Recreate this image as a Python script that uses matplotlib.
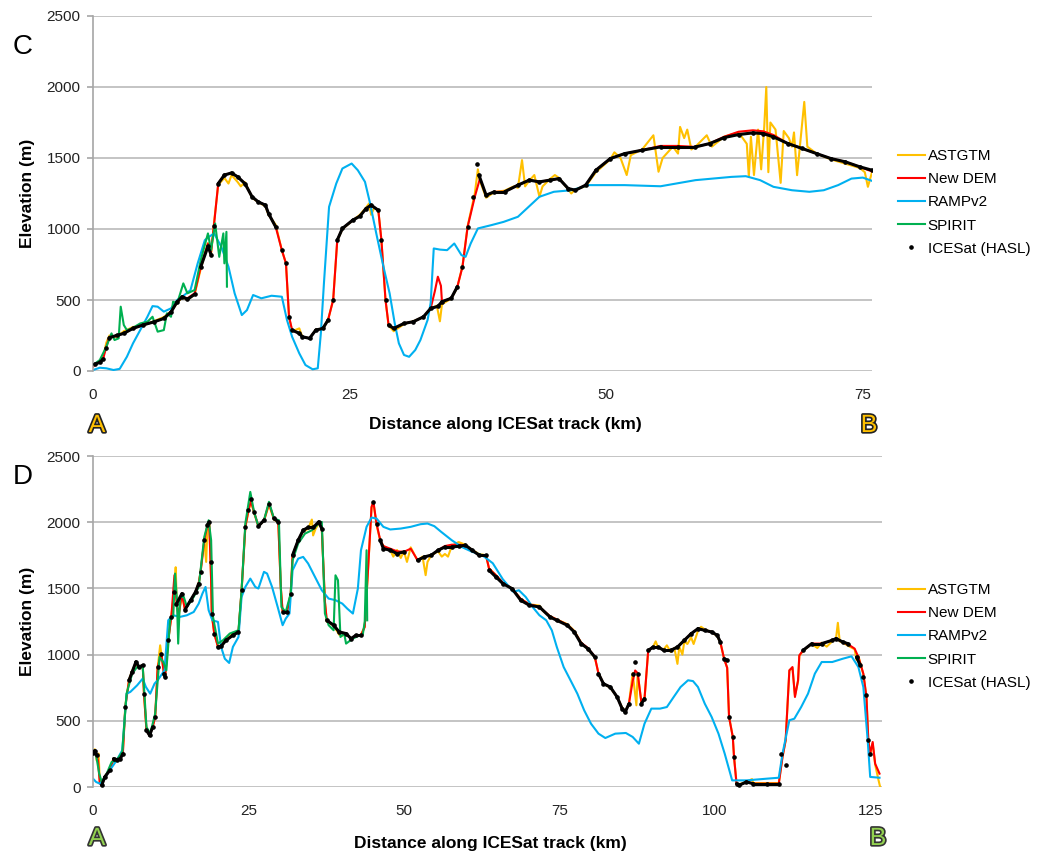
import numpy as np
import matplotlib
matplotlib.use("Agg")
import matplotlib.pyplot as plt
import matplotlib.patheffects as pe
from matplotlib.collections import LineCollection

plt.rcParams['font.family'] = ['Liberation Sans', 'DejaVu Sans']

nan = np.nan

# ---------------- panel C (track A-B, 76 km) ----------------
c_dem_km = [0.0, 0.3, 0.66, 1.0, 1.3, 1.6, 2.3, 3.0, 3.9, 4.9, 5.9, 6.9, 7.6, 8.2, 8.7, 9.2, 9.9, 10.5, 11.2, 11.5,
            11.8, 12.2, 12.8, 13.5, 14.1, 14.8, 15.5, 16.1, 16.8, 17.1, 17.8, 18.4, 18.8, 19.1, 19.4, 20.1, 20.4,
            21.1, 21.7, 22.4, 22.9, 23.4, 23.8, 24.3, 25.3, 26.0, 26.6, 27.1, 27.8, 28.1, 28.5, 28.8, 29.3, 30.3,
            31.2, 32.2, 32.9, 33.3, 33.6, 33.9, 34.0, 34.9, 35.5, 36.0, 36.5, 37.2, 37.7, 38.3, 39.1, 40.1, 41.4,
            42.5, 43.5, 44.5, 45.4, 46.3, 47.0, 48.0, 49.0, 50.4, 51.8, 53.5, 55.3, 57.0, 58.7, 60.1, 61.5, 62.9,
            64.3, 65.3, 66.3, 67.7, 69.1, 70.5, 71.9, 73.3, 74.7, 75.9]
c_dem_m = [30, 50, 65, 90, 170, 240, 250, 265, 300, 325, 345, 370, 415, 488, 523, 512, 547, 734, 898, 840,
           1036, 1320, 1380, 1395, 1367, 1320, 1227, 1191, 1168, 1109, 1015, 851, 758, 382, 288, 265, 241,
           230, 288, 300, 359, 500, 922, 1004, 1062, 1090, 1144, 1168, 1132, 922, 500, 324, 300, 335,
           347, 382, 441, 560, 664, 600, 488, 512, 594, 734, 1015, 1227, 1355, 1238, 1262, 1262, 1309,
           1344, 1332, 1344, 1355, 1285, 1273, 1309, 1414, 1496, 1531, 1555, 1585, 1585, 1578, 1602, 1650, 1685,
           1695, 1688, 1662, 1602, 1567, 1531, 1496, 1473, 1438, 1405]

c_ice_km = [0.2, 0.66, 1.0, 1.3, 1.6, 2.3, 3.0, 3.9, 4.9, 5.9, 6.9, 7.6, 8.2, 8.7, 9.2, 9.9, 10.5, 11.2, 11.5,
            11.8, 12.2, 12.8, 13.5, 14.1, 14.8, 15.5, 16.1, 16.8, 17.1, 17.8, 18.4, 18.8, 19.1, 19.4, 20.1, 20.4,
            21.1, 21.7, 22.4, 22.9, 23.4, 23.8, 24.3, 25.3, 26.0, 26.6, 27.1, 27.8, 28.1, 28.5, 28.8, 29.3, 30.3,
            31.2, 32.2, 32.9, 33.6, 34.0, 34.9, 35.5, 36.0, 36.5, 37.0, 37.4, 37.6, 38.3, 39.1, 40.1, 41.4,
            42.5, 43.5, 44.5, 45.4, 46.3, 47.0, 48.0, 49.0, 50.4, 51.8, 53.5, 55.3, 57.0, 58.7, 60.1, 61.5, 62.9,
            64.3, 65.3, 66.3, 67.7, 69.1, 70.5, 71.9, 73.3, 74.7, 75.9]
c_ice_m = [50, 60, 85, 160, 235, 250, 265, 300, 325, 345, 370, 415, 488, 523, 505, 540, 734, 877, 820,
           1020, 1320, 1380, 1395, 1367, 1320, 1227, 1191, 1168, 1109, 1015, 851, 758, 382, 288, 265, 241,
           230, 288, 300, 359, 500, 922, 1004, 1062, 1090, 1144, 1168, 1132, 922, 500, 324, 300, 335,
           347, 382, 441, 455, 488, 512, 594, 734, 1015, 1227, 1460, 1380, 1238, 1262, 1262, 1309,
           1344, 1332, 1344, 1355, 1285, 1273, 1309, 1414, 1496, 1531, 1555, 1578, 1578, 1578, 1602, 1644, 1665,
           1677, 1672, 1649, 1602, 1567, 1531, 1496, 1473, 1438, 1414]

c_ramp_km = [0.0, 0.66, 1.3, 2.0, 2.6, 3.3, 3.9, 4.6, 5.3, 5.8, 6.3, 6.9, 7.6, 8.2, 8.9, 9.5, 10.2, 10.9, 11.3,
             11.8, 12.5, 13.2, 13.8, 14.5, 15.0, 15.6, 16.4, 17.4, 18.4, 18.9, 19.4, 20.1, 20.7, 21.4, 21.9, 22.2,
             22.5, 23.0, 23.7, 24.3, 25.2, 25.8, 26.5, 27.0, 27.6, 28.3, 28.9, 29.4, 29.8, 30.3, 30.8, 31.4, 31.9,
             32.6, 32.9, 33.2, 33.8, 34.5, 35.2, 35.9, 36.3, 36.8, 37.5, 38.8, 40.0, 41.4, 42.1, 43.5, 44.9, 46.6,
             48.3, 51.8, 55.3, 58.7, 62.2, 63.6, 65.0, 66.3, 68.1, 69.8, 71.2, 72.6, 73.9, 75.0, 75.9]
c_ramp_m = [7, 23, 19, 7, 15, 100, 195, 288, 382, 457, 453, 418, 441, 500, 535, 570, 758, 922, 945,
            969, 875, 734, 547, 394, 429, 535, 512, 530, 523, 359, 241, 124, 42, 12, 19, 265,
            617, 1156, 1320, 1426, 1461, 1414, 1332, 1180, 969, 734, 547, 335, 195, 113, 100, 148, 218,
            359, 480, 863, 855, 851, 898, 816, 804, 898, 1004, 1027, 1050, 1086, 1133, 1227, 1262, 1273,
            1309, 1309, 1301, 1344, 1367, 1372, 1344, 1297, 1273, 1262, 1273, 1309, 1355, 1362, 1339]

c_spirit_km = [0.0, 0.66, 1.3, 1.8, 2.1, 2.5, 2.7, 3.0, 3.3, 3.8, 4.6, 5.3, 5.8, 6.3, 6.9, 7.2, 7.6, 7.8, 8.2,
               8.8, 9.2, 9.9, 10.5, 11.2, 11.5, 11.9, 12.3, 12.7, 12.8, 13.0, 13.05]
c_spirit_m = [42, 77, 171, 265, 218, 230, 453, 324, 288, 300, 335, 347, 382, 277, 288, 406, 382, 488, 476,
              617, 547, 570, 781, 969, 851, 1039, 804, 969, 758, 980, 594]

c_aster_km = [0.0, 0.5, 1.0, 1.3, 1.6, 2.3, 3.0, 3.9, 4.9, 5.9, 6.9, 7.6, 8.2, 8.7, 9.2, 9.9, 10.5, 11.2, 11.5,
              11.8, 12.2, 12.8, 13.2, 13.5, 14.1, 14.4, 14.8, 15.5, 16.1, 16.8, 17.1, 17.8, 18.4, 18.8, 19.1,
              19.4, 20.1, 20.4, 21.1, 21.7, 22.4, 22.9, 23.4, 23.8, 24.3, 25.3, 26.0, 26.6, 26.9, 27.1, 27.4,
              27.8, 28.1, 28.5, 28.8, 29.3, 30.3, 31.2, 32.2, 32.9, 33.5, 33.8, 34.0, 34.9, 35.5, 36.0, 36.5,
              37.2, 37.5, 37.7, 38.3, 39.1, 40.1, 41.0, 41.4, 41.8, 42.1, 42.5, 43.0, 43.5, 43.8, 44.5, 45.0,
              45.4, 46.3, 46.6, 47.0, 48.0, 49.0, 50.4, 50.8, 51.4, 52.0, 52.4, 53.5, 54.6, 55.1, 55.5, 56.5,
              57.0, 57.2, 57.6, 57.9, 58.3, 58.7, 59.8, 60.3, 61.5, 62.9, 63.7, 63.9, 64.1, 64.4, 64.8, 65.1,
              65.4, 65.6, 65.8, 66.0, 66.5, 67.0, 67.3, 67.8, 68.1, 68.3, 68.6, 68.9, 69.3, 69.6, 70.5, 71.9,
              73.3, 74.7, 75.2, 75.5, 75.9]
c_aster_m = [40, 60, 100, 200, 250, 240, 280, 310, 320, 350, 380, 420, 480, 520, 500, 540, 720, 900, 820,
             1050, 1310, 1360, 1320, 1380, 1330, 1300, 1330, 1220, 1190, 1160, 1100, 1030, 850, 760, 380,
             280, 300, 240, 230, 290, 300, 360, 500, 920, 1000, 1060, 1100, 1150, 1180, 1100, 1150,
             1130, 920, 500, 320, 280, 330, 350, 380, 440, 460, 350, 470, 510, 590, 740, 1020,
             1250, 1420, 1340, 1220, 1260, 1270, 1300, 1290, 1485, 1300, 1340, 1380, 1227, 1300, 1350, 1380,
             1360, 1280, 1250, 1280, 1300, 1400, 1490, 1540, 1500, 1380, 1520, 1560, 1660, 1403, 1500, 1580,
             1531, 1719, 1640, 1700, 1560, 1580, 1660, 1580, 1650, 1680, 1600, 1367, 1650, 1380, 1700, 1420,
             1720, 2000, 1400, 1750, 1700, 1325, 1690, 1640, 1580, 1680, 1379, 1600, 1895, 1580, 1531, 1490,
             1460, 1430, 1400, 1297, 1400]

# ---------------- panel D (track A-B, 127 km) ----------------
d_dem_km = [0.0, 0.3, 0.5, 0.8, 1.1, 1.4, 1.9, 2.7, 3.3, 3.8, 4.4, 4.8, 5.2, 5.8, 6.3, 6.9, 7.4, 8.0, 8.2, 8.6,
            9.1, 9.6, 10.0, 10.4, 11.0, 11.4, 11.6, 12.1, 12.6, 13.1, 13.5, 13.8, 14.3, 14.8, 15.7, 16.5, 17.0,
            17.3, 17.9, 18.4, 18.7, 19.0, 19.1, 19.5, 20.1, 20.6, 21.4, 22.5, 23.4, 23.9, 24.5, 25.0, 25.4, 25.9,
            26.6, 27.5, 28.3, 29.1, 29.8, 30.2, 30.5, 31.2, 31.8, 32.1, 33.0, 33.8, 34.6, 35.4, 36.3, 36.8, 37.3,
            37.6, 38.7, 39.6, 40.7, 41.5, 42.3, 43.1, 43.7, 44.2, 44.8, 45.1, 45.6, 46.2, 46.7, 47.8, 48.9, 50.0,
            51.1, 52.2, 53.3, 54.4, 55.5, 56.6, 57.7, 58.8, 59.9, 61.0, 62.1, 63.2, 63.7, 64.8, 65.9, 67.4, 68.8,
            70.2, 71.8, 73.5, 74.6, 76.3, 77.4, 78.5, 79.6, 80.7, 81.3, 82.1, 83.2, 84.3, 85.1, 85.6, 86.2, 86.8,
            87.2, 87.6, 88.2, 88.7, 89.3, 90.1, 90.9, 91.8, 92.9, 94.0, 95.1, 96.2, 97.3, 98.4, 99.5, 100.4,
            100.9, 101.5, 102.0, 102.3, 102.9, 103.1, 103.5, 103.9, 105.1, 106.2, 108.4, 110.3, 110.9, 111.4,
            112.0, 112.5, 112.9, 113.4, 113.6, 114.2, 115.6, 117.2, 118.9, 119.5, 120.6, 121.7, 122.5, 123.1,
            123.9, 124.4, 124.7, 125.0, 125.4, 125.8, 126.5]
d_dem_m = [264, 277, 252, 200, 25, 13, 76, 126, 214, 207, 214, 252, 605, 806, 869, 945, 907, 919, 705, 428,
           390, 453, 529, 907, 1008, 856, 831, 1108, 1285, 1600, 1360, 1310, 1461, 1335, 1411, 1474, 1537,
           1625, 1864, 1977, 1990, 1562, 1310, 1159, 1058, 1063, 1108, 1146, 1171, 1486, 1965, 2091, 2160, 2078,
           1970, 2015, 2141, 2028, 2002, 1511, 1322, 1322, 1461, 1751, 1864, 1940, 1960, 1950, 2002, 1952, 1400,
           1259, 1222, 1171, 1159, 1121, 1146, 1146, 1209, 1612, 2116, 2154, 1990, 1864, 1820, 1800, 1780, 1776,
           1800, 1713, 1738, 1751, 1788, 1820, 1830, 1830, 1826, 1788, 1751, 1751, 1650, 1600, 1545, 1498, 1420,
           1380, 1360, 1290, 1265, 1225, 1175, 1090, 1050, 985, 856, 780, 755, 680, 592, 566, 629, 800,
           880, 860, 640, 667, 1032, 1057, 1057, 1032, 1032, 1057, 1108, 1158, 1196, 1183, 1171, 1146,
           1095, 969, 900, 529, 378, 227, 25, 13, 38, 25, 25, 25, 227, 352,
           881, 906, 680, 806, 994, 1032, 1083, 1083, 1108, 1121, 1095, 1070, 1045, 982,
           856, 680, 352, 252, 340, 176, 101]

d_ice_km = [0.0, 0.3, 0.6, nan, 1.4, 1.9, 2.7, 3.3, 3.8, 4.4, 4.8, 5.2, 5.8, 6.3, 6.9, 7.4, 8.0, 8.2, 8.6, 9.1,
            9.6, 10.0, 10.4, 11.0, 11.4, 11.6, 12.1, 12.6, 13.0, 13.4, 14.3, 14.8, 15.7, 16.5, 17.0, 17.3, 17.9,
            18.4, 18.7, 19.0, 19.1, 19.5, 20.1, 20.6, 21.4, 22.5, 23.4, 23.9, 24.5, 25.0, 25.4, 25.9, 26.6, 27.5,
            28.3, 29.1, 29.8, nan, 30.5, 31.2, 31.8, 32.1, 33.0, 33.8, 34.6, 35.4, 36.3, 36.8, nan, 37.6, 38.7,
            39.6, 40.7, 41.5, 42.3, 43.1, nan, 45.1, 45.6, 46.2, 46.7, 47.8, 48.9, 50.0, nan, 52.2, 53.3, 54.4,
            55.5, 56.6, 57.7, 58.8, 59.9, 61.0, 62.1, 63.2, 63.7, 64.8, 65.9, 67.4, 68.8, 70.2, 71.8, 73.5, 74.6,
            76.3, 77.4, 78.5, 79.6, 80.7, 81.3, 82.1, 83.2, 84.3, 85.1, 85.6, 86.2, 86.8, 87.2, 87.6, 88.2, 88.7,
            89.3, 90.1, 90.9, 91.8, 92.9, 94.0, 95.1, 96.2, 97.3, 98.4, 99.5, 100.4, 100.9, 101.5, 102.0, nan,
            102.3, 102.9, 103.1, nan, 103.5, 103.9, 105.1, 106.2, 108.4, 110.3, nan, 110.6, nan, 111.4, nan,
            114.2, 115.6, 117.2, 118.9, 119.5, 120.6, 121.4, nan, 122.8, 123.4, 123.9, 124.4, 124.6, 125.0]
d_ice_m = [260, 275, 240, nan, 13, 76, 126, 214, 207, 214, 252, 605, 806, 869, 945, 907, 919, 705, 428, 390,
           453, 529, 907, 1008, 856, 831, 1108, 1285, 1470, 1380, 1461, 1340, 1411, 1474, 1537, 1625, 1864,
           1977, 2002, 1700, 1310, 1159, 1058, 1063, 1108, 1146, 1171, 1486, 1965, 2091, 2179, 2078, 1970, 2015,
           2141, 2028, 2002, nan, 1322, 1322, 1461, 1751, 1864, 1940, 1960, 1960, 2002, 1952, nan, 1259, 1222,
           1171, 1159, 1121, 1146, 1146, nan, 2154, 1990, 1864, 1801, 1788, 1763, 1776, nan, 1713, 1738, 1751,
           1788, 1813, 1813, 1818, 1826, 1788, 1751, 1751, 1637, 1587, 1537, 1498, 1410, 1372, 1360, 1284, 1259,
           1221, 1171, 1083, 1045, 982, 856, 780, 755, 680, 592, 566, 629, 856, 944, 856, 629, 667,
           1032, 1057, 1057, 1032, 1032, 1057, 1108, 1158, 1196, 1183, 1171, 1146, 1095, 969, 957, nan,
           529, 378, 227, nan, 25, 13, 38, 25, 25, 25, nan, 252, nan, 164, nan,
           1032, 1083, 1083, 1108, 1121, 1095, 1083, nan, 982, 919, 831, 692, 352, 252]

d_ramp_km = [0.0, 0.5, 1.1, 1.6, 2.7, 3.8, 4.7, 5.4, 6.0, 7.1, 8.0, 8.5, 9.2, 9.9, 10.4, 11.5, 12.1, 12.9, 14.0,
             15.1, 16.2, 17.0, 17.6, 18.1, 18.6, 19.2, 20.1, 20.6, 21.2, 21.9, 22.5, 23.4, 23.9, 24.5, 25.3, 26.1,
             26.6, 27.5, 28.0, 28.8, 29.7, 30.5, 31.0, 31.6, 32.1, 33.0, 33.8, 34.6, 35.7, 36.8, 37.9, 39.0, 40.1,
             40.9, 41.8, 42.6, 43.1, 44.0, 44.8, 45.6, 46.7, 47.8, 49.5, 51.1, 52.7, 53.8, 54.9, 56.0, 57.7, 59.3,
             61.0, 62.6, 64.3, 65.9, 67.6, 68.5, 69.6, 70.7, 71.8, 72.9, 73.8, 74.6, 75.7, 76.8, 77.9, 79.0, 80.1,
             81.3, 82.4, 84.0, 85.7, 86.8, 87.8, 88.7, 89.8, 91.2, 92.3, 93.4, 94.5, 95.7, 96.5, 97.3, 98.4, 99.5,
             100.6, 101.6, 102.8, 105.1, 108.4, 110.3, 110.9, 112.0, 112.8, 113.9, 115.0, 116.1, 117.2, 118.9,
             120.6, 122.0, 123.1, 123.9, 124.6, 125.0, 126.5]
d_ramp_m = [63, 38, 25, 50, 126, 201, 277, 705, 718, 768, 819, 756, 705, 781, 806, 881, 1259, 1297, 1285,
            1297, 1322, 1385, 1461, 1511, 1335, 1259, 1247, 1058, 969, 937, 1058, 1133, 1436, 1511, 1574, 1511,
            1499, 1625, 1612, 1511, 1360, 1222, 1272, 1310, 1637, 1725, 1738, 1688, 1587, 1486, 1423, 1411, 1385,
            1347, 1310, 1499, 1788, 1965, 2035, 2028, 1965, 1945, 1952, 1965, 1985, 1990, 1970, 1927, 1864, 1813,
            1776, 1751, 1690, 1570, 1474, 1486, 1435, 1360, 1297, 1259, 1183, 1057, 906, 806, 705, 579, 478,
            403, 370, 403, 408, 378, 327, 478, 592, 592, 604, 680, 755, 806, 800, 755, 629, 529,
            403, 252, 50, 50, 63, 70, 252, 504, 516, 604, 705, 856, 944, 944,
            969, 987, 906, 755, 352, 76, 70]

d_spirit_km = [0.0, 0.5, 1.0, 1.4, 2.2, 3.0, 3.8, 4.7, 5.4, 6.3, 7.1, 8.0, 8.6, 9.2, 10.0, 10.7, 11.3, 11.8, 12.4,
               12.9, 13.2, 13.5, 13.7, 14.0, 14.6, 15.1, 16.2, 17.0, 17.9, 18.6, 19.0, 19.3, 20.1, 20.9, 22.0,
               23.4, 23.9, 24.5, 25.3, 25.9, 26.6, 27.5, 28.3, 29.1, 29.9, 30.3, 31.0, 31.8, 32.1, 33.0, 34.1,
               35.2, 36.3, 36.8, 37.3, 37.9, 38.7, 39.0, 39.4, 39.8, 40.4, 40.7, 41.8, 42.9, 43.4, 43.7, 44.0,
               44.1]
d_spirit_m = [264, 239, 101, 38, 101, 189, 201, 264, 705, 856, 907, 907, 453, 403, 554, 982, 944, 881, 1259,
              1285, 1612, 1411, 1083, 1436, 1436, 1360, 1436, 1511, 1889, 2015, 1864, 1285, 1083, 1108, 1159,
              1184, 1486, 1990, 2229, 2078, 1970, 2015, 2154, 2028, 2015, 1360, 1322, 1461, 1713, 1839, 1914,
              1939, 1990, 2002, 1310, 1222, 1184, 1599, 1562, 1133, 1159, 1083, 1121, 1146, 1153, 1247, 1788,
              1259]

d_aster_km = [0.0, 0.3, 0.6, 0.9, 1.1, 1.4, 1.9, 2.7, 3.3, 3.8, 4.4, 4.8, 5.2, 5.8, 6.3, 6.9, 7.4, 8.0, 8.2, 8.6,
              9.1, 9.6, 10.0, 10.4, 10.8, 11.0, 11.4, 11.6, 12.1, 12.6, 13.1, 13.3, 13.5, 13.8, 14.3, 14.8, 15.7,
              16.5, 17.0, 17.3, 17.9, 18.2, 18.4, 18.7, 19.0, 19.1, 19.5, 20.1, 20.6, 21.4, 22.5, 23.4, 23.9,
              24.5, 25.0, 25.4, 25.9, 26.6, 27.5, 28.3, 29.1, 29.8, 30.2, 30.5, 31.2, 31.8, 32.1, 33.0, 33.8,
              34.6, 35.2, 35.4, 35.8, 36.3, 36.8, 37.3, 37.6, 38.7, 39.6, 40.0, 40.7, 41.5, 42.3, 43.1, 43.7,
              44.2, 44.8, 45.1, 45.6, 46.2, 46.7, 47.8, 48.3, 48.9, 49.5, 50.0, 50.5, 51.1, 52.2, 53.0, 53.5,
              53.8, 54.4, 55.5, 56.1, 56.6, 57.1, 57.7, 58.8, 59.9, 61.0, 62.1, 63.2, 63.7, 64.8, 65.9, 67.4,
              68.8, 70.2, 71.8, 72.4, 73.5, 74.6, 76.3, 77.4, 78.5, 79.6, 80.7, 81.3, 82.1, 83.2, 84.3, 85.1,
              85.6, 86.2, 86.8, 87.2, 87.4, 87.6, 88.2, 88.7, 89.3, 90.1, 90.5, 90.9, 91.8, 92.3, 92.9, 93.5,
              94.0, 94.3, 94.8, 95.1, 95.6, 96.2, 96.6, 97.3, 97.8, 98.4, 99.5, 100.4, 100.9, 101.5, 102.0,
              102.3, 102.9, 103.1, 103.5, 103.9, 105.1, 106.0, 106.2, 108.4, 110.3, 110.9, 111.4, 112.0, 112.5,
              112.9, 113.4, 113.6, 114.2, 115.6, 116.5, 117.2, 118.0, 118.9, 119.5, 119.8, 120.1, 120.6, 121.7,
              122.5, 122.8, 123.1, 123.9, 124.4, 124.7, 125.0, 125.4, 125.8, 126.3, 126.6]
d_aster_m = [270, 285, 200, 252, 30, 20, 80, 130, 215, 210, 215, 260, 620, 810, 880, 930, 900, 920, 700, 430,
             390, 460, 530, 900, 1070, 1000, 860, 830, 1110, 1290, 1500, 1660, 1350, 1300, 1450, 1340, 1410,
             1470, 1540, 1620, 1860, 1700, 1960, 1990, 1560, 1300, 1160, 1060, 1070, 1110, 1160, 1170, 1490,
             1960, 2080, 2160, 2070, 1970, 2010, 2130, 2020, 2000, 1510, 1320, 1320, 1460, 1750, 1860, 1930,
             1950, 2020, 1900, 1950, 1990, 1950, 1400, 1250, 1220, 1150, 1140, 1160, 1120, 1140, 1150, 1210,
             1610, 2110, 2150, 1980, 1860, 1820, 1790, 1740, 1790, 1730, 1780, 1700, 1810, 1710, 1740, 1600,
             1700, 1750, 1780, 1740, 1760, 1740, 1820, 1850, 1830, 1790, 1760, 1750, 1650, 1600, 1540, 1500,
             1420, 1380, 1370, 1330, 1290, 1265, 1230, 1180, 1090, 1040, 980, 860, 780, 750, 680, 600,
             570, 630, 860, 700, 617, 860, 640, 660, 1030, 1060, 1100, 1050, 1040, 1070, 1020, 1050,
             930, 1060, 1000, 1100, 1080, 1130, 1080, 1180, 1210, 1190, 1170, 1140, 1090, 970, 900,
             530, 380, 230, 30, 20, 40, 60, 30, 30, 30, 230, 350, 880, 900,
             690, 800, 990, 1030, 1080, 1050, 1090, 1060, 1100, 1120, 1240, 1100, 1090, 1060,
             1040, 960, 990, 850, 680, 350, 250, 330, 170, 60, 0]

series_names = ['ASTGTM', 'New DEM', 'RAMPv2', 'SPIRIT', 'ICESat (HASL)']
series_colors = ['#FFC000', '#FF0000', '#00B0F0', '#00B050', 'black']

W, H = 1038, 855
fig = plt.figure(figsize=(W / 100, H / 100), dpi=100)


def setup(ax, xmax, xticks):
    ax.set_xlim(0, xmax)
    ax.set_ylim(0, 2500)
    ax.set_yticks(range(0, 2501, 500))
    ax.set_xticks(xticks)
    ax.grid(axis='y', color='#BFBFBF', lw=1.3)
    ax.set_axisbelow(True)
    for s in ['top', 'right', 'bottom']:
        ax.spines[s].set_visible(False)
    ax.spines['left'].set_color('#A6A6A6')
    ax.spines['left'].set_linewidth(1.2)
    ax.tick_params(axis='y', length=4, width=1.2, colors='#A6A6A6', labelcolor='#222222', labelsize=11, pad=5)
    ax.tick_params(axis='x', length=0, labelsize=11, pad=12, labelcolor='#222222')
    ax.set_ylabel('Elevation (m)', fontsize=12.5, fontweight='bold', labelpad=8)


def ice_track(ax, km, m):
    # the ICESat shots are dense: draw them as a thick black trace,
    # but leave steep drops as loose dots so the DEM line shows through
    pts = ax.transData.transform(np.column_stack([km, m]))
    segs = []
    for i in range(len(km) - 1):
        if np.isnan(km[i]) or np.isnan(km[i + 1]):
            continue
        dx = abs(pts[i + 1, 0] - pts[i, 0])
        dy = abs(pts[i + 1, 1] - pts[i, 1])
        if dy > 3.0 * dx:
            continue
        segs.append([(km[i], m[i]), (km[i + 1], m[i + 1])])
    ax.add_collection(LineCollection(segs, colors='black', linewidths=2.2, capstyle='round', zorder=5))
    ax.plot(km, m, color='black', ls='none', marker='o', ms=2.3, label=series_names[4], zorder=6)


def draw(ax, aster, dem, ramp, spirit, ice):
    lw = 1.5
    ax.plot(*aster, color=series_colors[0], lw=lw, label=series_names[0])
    ax.plot(*dem, color=series_colors[1], lw=lw, label=series_names[1])
    ax.plot(*ramp, color=series_colors[2], lw=lw, label=series_names[2])
    ax.plot(*spirit, color=series_colors[3], lw=lw, label=series_names[3])
    ice_track(ax, *ice)


def add_legend(ax, top_px):
    handles, labels = ax.get_legend_handles_labels()
    fig.legend(handles, labels, loc='upper left', frameon=False, fontsize=11,
               bbox_to_anchor=(898 / W, 1 - top_px / H), bbox_transform=fig.transFigure,
               borderpad=0, handlelength=1.75, handletextpad=0.2, labelspacing=0.6,
               borderaxespad=0, markerscale=1.0)


def end_label(x_px, y_px, s, fill, edge):
    fig.text(x_px / W, 1 - y_px / H, s, fontsize=18, color=fill, ha='center', va='center',
             path_effects=[pe.withStroke(linewidth=2.4, foreground=edge)])


axC = fig.add_axes([93 / W, 1 - 371 / H, (872 - 93) / W, (371 - 16) / H])
setup(axC, 75.9, [0, 25, 50, 75])
draw(axC, (c_aster_km, c_aster_m), (c_dem_km, c_dem_m), (c_ramp_km, c_ramp_m),
     (c_spirit_km, c_spirit_m), (c_ice_km, c_ice_m))
add_legend(axC, 149)
fig.text(23 / W, 1 - 47 / H, 'C', fontsize=20, ha='center', va='center')
fig.text(505 / W, 1 - 425 / H, 'Distance along ICESat track (km)', fontsize=12.5,
         fontweight='bold', ha='center', va='center')
end_label(97, 425, 'A', '#FFC000', '#222222')
end_label(869, 425, 'B', '#FFC000', '#222222')

axD = fig.add_axes([93 / W, 1 - 787 / H, (882 - 93) / W, (787 - 456) / H])
setup(axD, 126.9, [0, 25, 50, 75, 100, 125])
draw(axD, (d_aster_km, d_aster_m), (d_dem_km, d_dem_m), (d_ramp_km, d_ramp_m),
     (d_spirit_km, d_spirit_m), (d_ice_km, d_ice_m))
add_legend(axD, 583)
fig.text(23 / W, 1 - 477 / H, 'D', fontsize=20, ha='center', va='center')
fig.text(490 / W, 1 - 843 / H, 'Distance along ICESat track (km)', fontsize=12.5,
         fontweight='bold', ha='center', va='center')
end_label(97, 838, 'A', '#92D050', '#333333')
end_label(878, 838, 'B', '#92D050', '#333333')

fig.savefig('out.png', dpi=100, facecolor='white')
